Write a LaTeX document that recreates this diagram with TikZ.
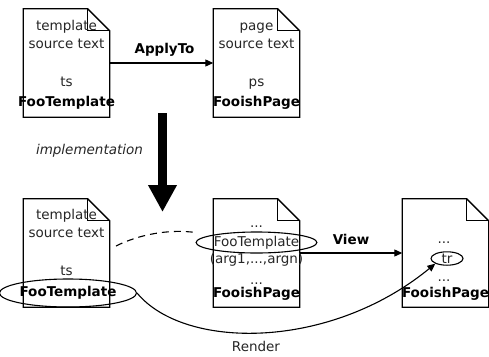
\documentclass[tikz,border=0pt]{standalone}
\usepackage{fontspec}
\setmainfont{DejaVu Sans}
\usetikzlibrary{arrows.meta,shapes.geometric}

\begin{document}
\begin{tikzpicture}[x=1pt,y=-1pt,
    page/.style={minimum width=86pt,minimum height=108pt,inner sep=0pt},
    txt/.style={anchor=base,inner sep=0pt,text=black!85,font=\fontsize{13.5}{16}\selectfont},
    pname/.style={anchor=base,inner sep=0pt,font=\fontsize{13.5}{16}\selectfont\bfseries},
    oval/.style={ellipse,draw,line width=1.1pt,inner sep=0pt},
    link/.style={line width=1.1pt,-{Triangle[length=8pt,width=7pt]}},
  ]
  \useasboundingbox (0,0) rectangle (489,356);
  % the five pages
  \node[page] (tl) at (66.5,63) {};
  \node[page] (tr) at (256.5,63) {};
  \node[page] (bl) at (66.5,253) {};
  \node[page] (bm) at (256.5,253) {};
  \node[page] (br) at (445.5,253) {};
  \foreach \p in {tl,tr,bl,bm,br} {
    \draw[line width=1.3pt]
      (\p.north west) -- ([xshift=-22pt]\p.north east) -- ([yshift=-22pt]\p.north east)
      -- (\p.south east) -- (\p.south west) -- cycle;
    \draw[line width=1.3pt] ([xshift=-22pt]\p.north east) |- ([yshift=-22pt]\p.north east);
  }
  % top row
  \node[txt] (tl1) at (66.5,30) {template};
  \node[txt] (tl2) at (66.5,48) {source text};
  \node[txt] (tl3) at (66.5,86) {ts};
  \node[pname] (tl4) at (66.5,106) {FooTemplate};
  \node[txt] (tr1) at (256.5,30) {page};
  \node[txt] (tr2) at (256.5,48) {source text};
  \node[txt] (tr3) at (256.5,86) {ps};
  \node[pname] (tr4) at (256.5,106) {FooishPage};
  \draw[link] (tl) -- node[pname,midway,xshift=3pt,yshift=10pt] {ApplyTo} (tr);
  % implementation
  \coordinate (implA) at (162.5,113);
  \coordinate (implB) at (162.5,212);
  \draw[line width=9pt,-{Triangle[length=27pt,width=27pt]}] (implA) -- (implB);
  \node[txt,font=\fontsize{13.5}{16}\selectfont\itshape] (impl) at (89.5,154.5) {implementation};
  % bottom row
  \node[txt] (bl1) at (66.5,219) {template};
  \node[txt] (bl2) at (66.5,237) {source text};
  \node[txt] (bl3) at (66.5,275) {ts};
  \node[oval,font=\fontsize{13.5}{16}\selectfont\bfseries,minimum width=110pt,minimum height=28pt]
    (blname) at (68,293) {FooTemplate};
  \node[txt] (bm1) at (256.5,227) {...};
  \node[oval,text=black!85,font=\fontsize{13.5}{16}\selectfont,minimum width=99pt,minimum height=21pt]
    (bmcall) at (256.5,242.5) {FooTemplate};
  \node[txt] (bm2) at (256.5,263) {(arg1,...,argn)};
  \node[txt] (bm3) at (256.5,284) {...};
  \node[pname] (bm4) at (256.5,297) {FooishPage};
  \node[txt] (br1) at (444,243) {...};
  \node[oval,text=black!85,font=\fontsize{13.5}{16}\selectfont,minimum width=32pt,minimum height=13pt]
    (brcall) at (447,258.5) {tr};
  \node[txt] (br2) at (444,281) {...};
  \node[pname] (br3) at (445.5,297) {FooishPage};
  % connectors
  \coordinate (dashA) at (116,246);
  \draw[line width=1.1pt,dash pattern=on 7pt off 5pt]
    (dashA) .. controls (140,234) and (170,229) .. ([yshift=10pt]bmcall.west);
  \draw[link] (bm) -- node[pname,midway,yshift=9pt] {View} (br);
  \draw[link] (blname.east) .. controls +(47,57) and +(-106,87) .. (brcall.south west);
  \node[txt] (render) at (256,351) {Render};
\end{tikzpicture}
\end{document}
